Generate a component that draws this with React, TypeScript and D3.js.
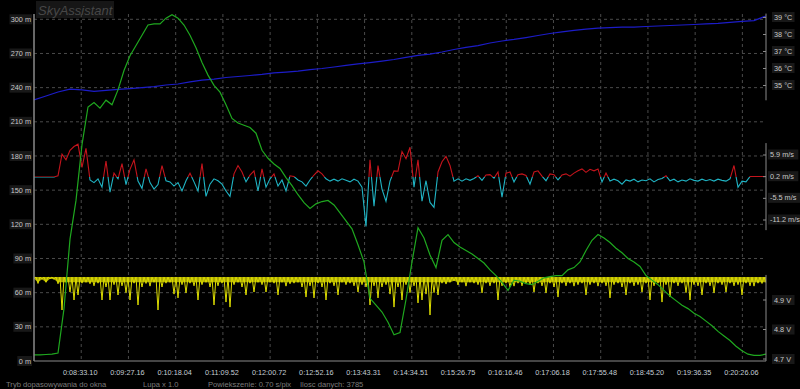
import React from 'react';
import * as d3 from 'd3';

const W = 800;
const H = 389;

const timeLabels = ['0:08:33.10', '0:09:27.16', '0:10:18.04', '0:11:09.52', '0:12:00.72', '0:12:52.16', '0:13:43.31', '0:14:34.51', '0:15:26.75', '0:16:16.46', '0:17:06.18', '0:17:55.48', '0:18:45.20', '0:19:36.35', '0:20:26.06'];
const altTicks = [0, 30, 60, 90, 120, 150, 180, 210, 240, 270, 300];
const tempTicks = [35, 36, 37, 38, 39];
const speedTicks = [5.9, 0.2, -5.5, -11.2];
const voltTicks = [4.9, 4.8, 4.7];
const tempAxisExtent = [34.1, 39.2];
const speedAxisExtent = [-14.0, 8.9];
const voltAxisExtent = [4.693, 4.985];
const statusTexts = ['Tryb dopasowywania do okna', 'Lupa x 1.0', 'Powiekszenie: 0.70 s/pix', 'Ilosc danych: 3785'];
const title = 'SkyAssistant';

// altitude [m], evenly spaced in time
const altitude = [
  5.3, 5.3, 5.7, 6.1, 7.0, 46, 107, 141, 190, 223,
  227, 222, 229, 225, 238, 255, 268, 277, 286, 295,
  296, 296, 301, 304, 301, 295, 286, 275, 262, 251,
  242, 236, 225, 213, 209, 207, 205, 200, 185, 178,
  173, 169, 161, 154, 146, 139, 134, 138, 140, 141,
  137, 130, 123, 116, 102, 87, 55, 49, 43, 34,
  23, 25, 54, 87, 117, 108, 93, 82, 106, 111,
  104, 100, 97, 94, 90, 86, 80, 75, 69, 62,
  71, 70, 68, 67, 70, 73, 74, 75, 75, 80,
  82, 87, 97, 106, 111, 108, 104, 99, 95, 90,
  87, 83, 75, 71, 67, 62, 57, 53, 49, 46,
  42, 39, 35, 31, 26, 22, 18, 13, 9, 6,
  5, 5, 6,
];

// temperature [°C]
const temperature = [
  34.12, 34.35, 34.59, 34.76, 34.71, 34.62, 34.68, 34.74, 34.79, 34.85,
  34.91, 35.0, 35.06, 35.18, 35.29, 35.35, 35.44, 35.5, 35.56, 35.62,
  35.71, 35.76, 35.82, 35.91, 35.97, 36.06, 36.15, 36.24, 36.32, 36.41,
  36.5, 36.62, 36.74, 36.82, 36.94, 37.09, 37.21, 37.32, 37.47, 37.59,
  37.68, 37.79, 37.91, 38.03, 38.12, 38.21, 38.29, 38.35, 38.38, 38.41,
  38.41, 38.44, 38.47, 38.5, 38.53, 38.56, 38.59, 38.62, 38.68, 38.74,
  38.79, 39.06,
];

// vertical speed [m/s]
const speed = [
  0, 0, 0, 0, 0, 0, 0.3, 6.0, 4.5, 7.0,
  8.0, 8.6, 2.5, 7.5, -0.8, -1.5, -0.5, -2.7, 4.2, -4.0,
  1.0, -0.5, 3.5, -2.0, 2.0, 4.5, -1.1, -3.0, 2.1, -1.5,
  -3.2, -2.0, 3.0, -1.0, -1.3, -2.4, -1.5, -3.7, -1.0, 1.0,
  -1.3, -3.7, 3.5, -5.1, -1.9, -0.5, -1.0, -1.9, -3.7, -5.1,
  0.8, 3.0, 1.3, -1.3, 0.5, 1.6, -3.7, 2.1, -2.7, -0.5,
  0.8, -2.4, -0.8, -3.7, 0.3, 0.1, -0.8, -1.3, -2.4, -0.8,
  0.5, 1.6, 0.8, -0.5, -1.1, -0.6, -1.1, -0.5, -0.9, -1.3,
  -0.6, -1.1, -2.7, -13.0, 4.5, -7.7, 3.0, -3.2, -6.4, -1.1,
  1.6, 1.5, 6.7, 4.8, 7.8, -2.7, 4.5, -6.4, -1.0, -6.7,
  -8.0, 1.3, 4.0, 5.4, 3.0, -1.1, -0.5, -1.1, -0.5, -0.9,
  -0.4, 0.3, -0.9, 0.5, 0.6, -0.3, 1.3, -5.3, 1.0, 1.3,
  -1.3, 0.6, 0.8, 0.4, -1.9, 1.3, 1.6, 0.2, -1.0, 0.8,
  0.6, -0.8, 0.5, 0.8, 0.2, 1.0, 1.6, 2.1, 1.2, 2.0,
  1.6, 2.1, -1.3, 1.0, -1.1, -0.6, -1.0, -1.9, -0.8, -1.1,
  -0.6, -1.3, -0.8, -1.0, -0.5, -1.3, -0.7, -0.4, 0.3, -1.0,
  -0.6, -1.3, -0.8, -1.1, -0.5, -0.9, -1.1, -0.6, -1.0, -0.7,
  -1.1, -0.6, -0.9, -1.1, -0.5, 3.0, -2.7, -1.1, -1.3, 0.1,
  0.1, 0.1, 0.1, 0.1,
];

// supply voltage: lower envelope of the noisy trace [V]
const voltageLow = [
  4.972, 4.956, 4.97, 4.96, 4.972, 4.97, 4.955, 4.866, 4.96, 4.927,
  4.9, 4.917, 4.957, 4.96, 4.955, 4.948, 4.957, 4.9, 4.944, 4.9,
  4.952, 4.917, 4.948, 4.925, 4.9, 4.957, 4.883, 4.944, 4.956, 4.947,
  4.96, 4.866, 4.944, 4.957, 4.96, 4.92, 4.907, 4.952, 4.924, 4.957,
  4.948, 4.9, 4.952, 4.96, 4.944, 4.883, 4.948, 4.957, 4.893, 4.876,
  4.952, 4.96, 4.944, 4.917, 4.957, 4.927, 4.96, 4.952, 4.927, 4.96,
  4.957, 4.917, 4.96, 4.947, 4.955, 4.957, 4.96, 4.944, 4.91, 4.948,
  4.907, 4.957, 4.944, 4.9, 4.957, 4.948, 4.917, 4.96, 4.952, 4.957,
  4.948, 4.927, 4.952, 4.944, 4.883, 4.948, 4.907, 4.944, 4.952, 4.92,
  4.876, 4.944, 4.9, 4.952, 4.925, 4.948, 4.89, 4.9, 4.92, 4.849,
  4.925, 4.917, 4.957, 4.954, 4.96, 4.965, 4.951, 4.96, 4.947, 4.96,
  4.957, 4.952, 4.924, 4.957, 4.948, 4.957, 4.9, 4.948, 4.957, 4.944,
  4.947, 4.957, 4.948, 4.957, 4.952, 4.927, 4.957, 4.948, 4.924, 4.957,
  4.944, 4.91, 4.957, 4.948, 4.957, 4.947, 4.952, 4.957, 4.917, 4.952,
  4.957, 4.947, 4.957, 4.948, 4.907, 4.952, 4.957, 4.944, 4.917, 4.957,
  4.948, 4.952, 4.927, 4.957, 4.9, 4.948, 4.957, 4.893, 4.952, 4.91,
  4.957, 4.948, 4.957, 4.925, 4.9, 4.952, 4.948, 4.917, 4.957, 4.948,
  4.924, 4.957, 4.952, 4.927, 4.957, 4.948, 4.952, 4.917, 4.957, 4.948,
  4.947, 4.957, 4.956, 4.96,
];
const voltageTop = 4.978;
const voltageBand = 4.96;

const FONT = '"Liberation Sans", Arial, sans-serif';

export default function App() {
  const plotL = 34;
  const plotR = 766;
  const plotB = 361;
  const plotT = 14;

  const xGrid = d3.scaleLinear().domain([-1, 14.5]).range([plotL, plotR]);
  const xOf = (n: number) => d3.scaleLinear().domain([0, n - 1]).range([plotL, plotR]);
  const yAlt = d3.scaleLinear().domain([0, 300]).range([plotB, 19.3]);
  const yTemp = d3.scaleLinear().domain([35, 39]).range([85, 17]);
  const ySpeed = d3.scaleLinear().domain([-11.2, 5.9]).range([219.5, 154.5]);
  const yVolt = d3.scaleLinear().domain([4.7, 4.9]).range([359, 300]);

  const xa = xOf(altitude.length);
  const altPath = d3.line<number>().x((_, i) => xa(i)).y((d) => yAlt(d))(altitude) || '';
  const xt = xOf(temperature.length);
  const tempPath = d3.line<number>().x((_, i) => xt(i)).y((d) => yTemp(d))(temperature) || '';
  const xs = xOf(speed.length);
  const speedPath = d3.line<number>().x((_, i) => xs(i)).y((d) => ySpeed(d))(speed) || '';
  const xv = xOf(voltageLow.length);
  const zig: [number, number][] = [];
  voltageLow.forEach((v, i) => {
    zig.push([xv(i), yVolt(v)]);
    zig.push([xv(i + 0.5), yVolt(voltageTop)]);
  });
  const voltZig = d3.line()(zig) || '';
  const voltBand = d3
    .area<number>()
    .x((_, i) => xv(i))
    .y0(() => yVolt(voltageTop))
    .y1((d) => yVolt(Math.max(d, voltageBand)))(voltageLow) || '';

  const speedZero = ySpeed(0);
  const gridIdx = d3.range(timeLabels.length);

  const labelBox = (txt: string) => txt.length * 3.9 + 3;

  return (
    <svg
      width={W}
      height={H}
      style={{ position: 'fixed', left: 0, top: 0, background: '#000', display: 'block' }}
      fontFamily={FONT}
    >
      <defs>
        <clipPath id="plot">
          <rect x={plotL} y={0} width={plotR - plotL} height={plotB} />
        </clipPath>
        <clipPath id="above">
          <rect x={plotL} y={0} width={plotR - plotL} height={speedZero} />
        </clipPath>
        <clipPath id="below">
          <rect x={plotL} y={speedZero} width={plotR - plotL} height={H - speedZero} />
        </clipPath>
      </defs>
      <rect x={0} y={0} width={W} height={H} fill="#000" />

      {/* title */}
      <rect x={36} y={1} width={78} height={17} fill="#161616" />
      <text x={38} y={14.5} fontSize={13} fontStyle="italic" fill="#474747">
        {title}
      </text>

      {/* grid */}
      {altTicks
        .filter((t) => t > 0)
        .map((t) => (
          <line key={'h' + t} x1={plotL} x2={plotR} y1={yAlt(t)} y2={yAlt(t)} stroke="#4a4a4a" strokeDasharray="3,3" />
        ))}
      {gridIdx.map((k) => (
        <line key={'v' + k} x1={xGrid(k)} x2={xGrid(k)} y1={plotT} y2={plotB} stroke="#4a4a4a" strokeDasharray="3,3" />
      ))}

      {/* series */}
      <g clipPath="url(#plot)">
        <path d={voltBand} fill="#c8c400" opacity={0.85} />
        <path d={voltZig} fill="none" stroke="#dcdc00" strokeWidth={1} />
        <path d={speedPath} fill="none" stroke="#c4141c" strokeWidth={1.1} clipPath="url(#above)" />
        <path d={speedPath} fill="none" stroke="#20b4c4" strokeWidth={1.1} clipPath="url(#below)" />
        <path d={tempPath} fill="none" stroke="#1c1cc8" strokeWidth={1.2} />
        <path d={altPath} fill="none" stroke="#1fa81f" strokeWidth={1.2} />
      </g>

      {/* left axis */}
      <line x1={plotL} x2={plotL} y1={plotT} y2={plotB} stroke="#8a8a8a" strokeWidth={1.5} />
      <line x1={plotL} x2={plotR} y1={plotB} y2={plotB} stroke="#8a8a8a" strokeWidth={1} />
      {altTicks.map((t) => {
        const label = `${t} m`;
        const w = labelBox(label);
        return (
          <g key={'a' + t}>
            <rect x={32 - w} y={yAlt(t) - 5} width={w} height={10} fill="#181818" />
            <text x={31} y={yAlt(t)} dy="0.35em" textAnchor="end" fontSize={7.3} fill="#c8c8c8">
              {label}
            </text>
          </g>
        );
      })}

      {/* right axes */}
      <line x1={plotR} x2={plotR} y1={yTemp(tempAxisExtent[1])} y2={yTemp(tempAxisExtent[0])} stroke="#8a8a8a" />
      {tempTicks.map((t) => {
        const label = `${t} °C`;
        const w = labelBox(label);
        return (
          <g key={'t' + t}>
            <line x1={plotR - 3} x2={plotR} y1={yTemp(t) + 0.5} y2={yTemp(t) + 0.5} stroke="#8a8a8a" />
            <rect x={772} y={yTemp(t) - 5} width={w} height={10} fill="#181818" />
            <text x={774} y={yTemp(t)} dy="0.35em" fontSize={7.3} fill="#c8c8c8">
              {label}
            </text>
          </g>
        );
      })}
      <line x1={plotR} x2={plotR} y1={ySpeed(speedAxisExtent[1])} y2={ySpeed(speedAxisExtent[0])} stroke="#8a8a8a" />
      {speedTicks.map((t) => {
        const label = `${t} m/s`;
        const w = labelBox(label);
        return (
          <g key={'s' + t}>
            <line x1={plotR - 3} x2={plotR} y1={ySpeed(t) + 0.5} y2={ySpeed(t) + 0.5} stroke="#8a8a8a" />
            <rect x={768} y={ySpeed(t) - 5} width={w} height={10} fill="#181818" />
            <text x={770} y={ySpeed(t)} dy="0.35em" fontSize={7.3} fill="#c8c8c8">
              {label}
            </text>
          </g>
        );
      })}
      <line x1={plotR} x2={plotR} y1={yVolt(voltAxisExtent[1])} y2={yVolt(voltAxisExtent[0])} stroke="#8a8a8a" />
      {voltTicks.map((t) => {
        const label = `${t} V`;
        const w = labelBox(label);
        return (
          <g key={'vv' + t}>
            <line x1={plotR - 3} x2={plotR} y1={yVolt(t)} y2={yVolt(t)} stroke="#8a8a8a" />
            <rect x={772} y={yVolt(t) - 5} width={w} height={10} fill="#181818" />
            <text x={774} y={yVolt(t)} dy="0.35em" fontSize={7.3} fill="#c8c8c8">
              {label}
            </text>
          </g>
        );
      })}

      {/* time labels */}
      {timeLabels.map((l, k) => (
        <text key={l} x={xGrid(k) - 1} y={375} textAnchor="middle" fontSize={7.3} fill="#c4ccd4">
          {l}
        </text>
      ))}

      {/* status bar */}
      {statusTexts.map((s, i) => (
        <text key={s} x={[6, 143, 208, 300][i]} y={387} fontSize={7.6} fill="#7c7c7c">
          {s}
        </text>
      ))}
    </svg>
  );
}
